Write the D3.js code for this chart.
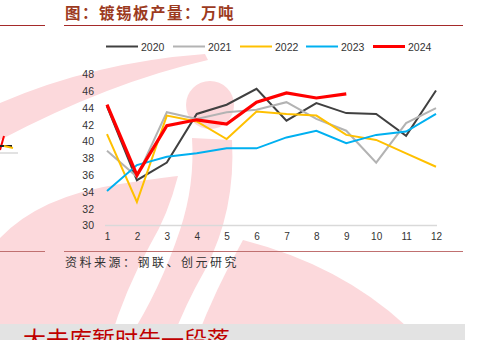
<!DOCTYPE html>
<html><head><meta charset="utf-8">
<script src="https://cdn.jsdelivr.net/npm/d3@7/dist/d3.min.js"></script>
<style>
html,body{margin:0;padding:0;background:#fff;overflow:hidden}
svg{display:block}
</style></head>
<body>
<svg id="c" width="478" height="340"></svg>
<script>
const months = [1,2,3,4,5,6,7,8,9,10,11,12];
const yTicks = [30,32,34,36,38,40,42,44,46,48];
const seriesNames = ["2020","2021","2022","2023","2024"];
const v2020 = [44.2,35.4,37.5,43.3,44.4,46.3,42.5,44.6,43.4,43.3,40.7,46.1];
const v2021 = [38.9,35.8,43.5,42.7,43.5,43.8,44.7,42.7,41.3,37.5,42.2,44.0];
const v2022 = [40.9,32.8,43.1,42.4,40.3,43.6,43.3,43.1,40.8,40.2,38.6,37.0];
const v2023 = [34.1,37.2,38.2,38.6,39.2,39.2,40.5,41.3,39.8,40.8,41.2,43.3];
const v2024 = [44.4,36.0,41.9,42.6,42.1,44.7,45.8,45.2,45.7];
const colors = ["#404040","#B3B3B3","#FFC000","#00B0F0","#FF0000"];
const widths = [2,2,2,2,3.2];
const allSeries = [v2020,v2021,v2022,v2023,v2024];

const svg = d3.select("#c");
const pink = "#FCD9DC";

// watermark
const wm = svg.append("g");
wm.append("path").attr("fill",pink)
  .attr("d","M0,103 Q95,62 205,54 L208,60 Q110,82 0,140 Z");
wm.append("path").attr("fill",pink)
  .attr("d","M0,238 Q40,196 120,184 Q160,178 178,176 Q168,215 150,245 Q125,290 110,340 L0,340 Z");
wm.append("circle").attr("fill",pink).attr("cx",210).attr("cy",105).attr("r",24);
wm.append("path").attr("fill",pink)
  .attr("d","M192,138 L232,140 Q236,210 205,270 Q185,305 172,340 L128,340 Q160,290 180,230 Q195,185 192,138 Z");
wm.append("path").attr("fill",pink)
  .attr("d","M243,240 Q340,265 405,325 L405,340 L196,340 Q215,290 243,240 Z");

// left fragments
svg.append("line").attr("x1",0).attr("x2",45).attr("y1",25.5).attr("y2",25.5).attr("stroke","#A52A2A").attr("stroke-width",1.2);
svg.append("line").attr("x1",0).attr("x2",45).attr("y1",251.5).attr("y2",251.5).attr("stroke","#C07070").attr("stroke-width",1);
svg.append("line").attr("x1",0).attr("x2",18).attr("y1",153).attr("y2",153).attr("stroke","#D9D9D9").attr("stroke-width",1.5);
svg.append("path").attr("d","M0,150 L4,136").attr("stroke","#FF0000").attr("stroke-width",2).attr("fill","none");
svg.append("path").attr("d","M0,146 L12,146").attr("stroke","#222").attr("stroke-width",2).attr("fill","none");
svg.append("path").attr("d","M4,146 L13,148").attr("stroke","#FFC000").attr("stroke-width",2).attr("fill","none");

// title
svg.append("text").attr("x",65).attr("y",19).text("图：镀锡板产量：万吨")
  .attr("font-family","'Noto Sans CJK SC'").attr("font-weight","bold").attr("font-size",15.5)
  .attr("fill","#9C3A1E").attr("letter-spacing",1.5);
svg.append("line").attr("x1",64).attr("x2",463).attr("y1",25.5).attr("y2",25.5).attr("stroke","#A52A2A").attr("stroke-width",1.2);

// scales
const x = d3.scalePoint().domain(months).range([107,436]);
const y = d3.scaleLinear().domain([30,48]).range([225.5,74.5]);

// x axis
const xa = svg.append("g").attr("transform","translate(0,225.5)")
  .call(d3.axisBottom(x).tickSize(0).tickPadding(7));
xa.select(".domain").attr("stroke","#D9D9D9").attr("stroke-width",1.5).attr("d","M105,0H437");
xa.selectAll("text").attr("font-family","Arial, 'Liberation Sans'").attr("font-size",10).attr("fill","#333");

// y axis
const ya = svg.append("g").attr("transform","translate(97,0)")
  .call(d3.axisLeft(y).tickValues(yTicks).tickSize(0).tickPadding(3));
ya.select(".domain").remove();
ya.selectAll("text").attr("font-family","Arial, 'Liberation Sans'").attr("font-size",10.5).attr("fill","#333");

// lines
const line = d3.line().x((d,i)=>x(months[i])).y(d=>y(d));
allSeries.forEach((s,k)=>{
  svg.append("path").datum(s).attr("d",line).attr("fill","none")
    .attr("stroke",colors[k]).attr("stroke-width",widths[k]).attr("stroke-linejoin","miter");
});

// legend
const lx = [106,173,240,306,373];
seriesNames.forEach((n,k)=>{
  svg.append("line").attr("x1",lx[k]).attr("x2",lx[k]+32).attr("y1",46.5).attr("y2",46.5)
    .attr("stroke",colors[k]).attr("stroke-width",k===4?3:2);
  svg.append("text").attr("x",lx[k]+35).attr("y",50.5).text(n)
    .attr("font-family","Arial, 'Liberation Sans'").attr("font-size",10.5).attr("fill","#333");
});

// source
svg.append("line").attr("x1",64).attr("x2",463).attr("y1",251.5).attr("y2",251.5).attr("stroke","#C07070").attr("stroke-width",1);
svg.append("text").attr("x",65).attr("y",267).text("资料来源：钢联、创元研究")
  .attr("font-family","'Noto Sans CJK SC'").attr("font-size",12).attr("fill","#333").attr("letter-spacing",2.5);

// bottom bar
svg.append("rect").attr("x",0).attr("y",324).attr("width",465).attr("height",16).attr("fill","#E3E3E3");
svg.append("text").attr("x",0).attr("y",348).text("、大去库暂时告一段落")
  .attr("font-family","'Noto Sans CJK SC'").attr("font-size",23).attr("fill","#C00000");
</script>
</body></html>
